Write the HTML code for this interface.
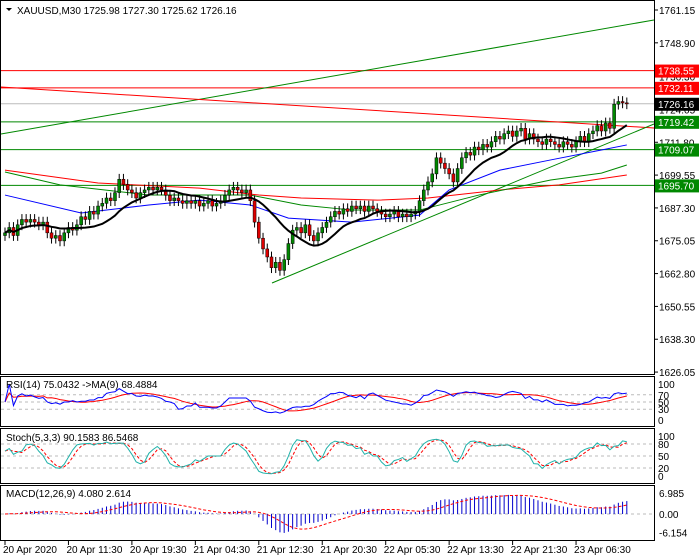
<!DOCTYPE html>
<html><head><meta charset="utf-8"><style>
body{margin:0;background:#fff;}
svg{display:block;font-family:"Liberation Sans",sans-serif;font-size:10px;}
</style></head><body>
<svg id="c" width="700" height="560" xmlns="http://www.w3.org/2000/svg"></svg>
<script>
const closes=[1678,1680,1677,1681,1683,1682,1683,1682,1681,1682,1678,1676,1677,1675,1678,1680,1679,1681,1684,1683,1686,1685,1688,1689,1691,1690,1693,1698,1696,1694,1693,1691,1693,1694,1695,1694,1695,1694,1692,1690,1691,1690,1689,1690,1689,1690,1688,1689,1690,1688,1689,1690,1692,1694,1695,1694,1693,1694,1690,1682,1676,1672,1669,1665,1667,1664,1668,1674,1679,1680,1678,1681,1677,1675,1678,1680,1682,1684,1686,1685,1687,1686,1688,1687,1688,1686,1688,1687,1686,1685,1684,1685,1686,1684,1685,1684,1685,1686,1690,1694,1697,1700,1706,1704,1702,1700,1697,1702,1706,1708,1707,1710,1709,1711,1710,1712,1714,1713,1715,1716,1714,1716,1717,1713,1715,1713,1712,1711,1713,1712,1711,1710,1712,1711,1710,1712,1714,1712,1715,1716,1718,1716,1719,1717,1726,1727,1726.5,1726.16];
const blueIdx=[0,18,34,46,58,67,82,98,105,117,129,141,147];
const blueVals=[1692.1,1685.4,1688.4,1690.2,1688.4,1683.5,1682.0,1684.6,1694.0,1701.4,1705.2,1708.9,1710.8];
const greenIdx=[0,13,34,58,70,82,98,112,129,141,147];
const greenVals=[1700.7,1695.9,1692.1,1692.1,1688.4,1686.5,1686.5,1692.1,1697.7,1700.3,1703.3];
const redIdx=[0,22,46,60,70,88,100,117,131,147];
const redVals=[1701.4,1696.6,1694.7,1692.1,1691.0,1690.2,1691.0,1694.0,1695.9,1699.6];
const hLevels=[1738.55,1732.11,1719.42,1709.07,1695.70];
const hColors=['#f00','#f00','#080','#080','#080'];
const priceTicks=[1761.15,1748.90,1736.30,1724.05,1711.80,1699.55,1687.30,1675.05,1662.80,1650.55,1638.30,1626.05];
const timeLabels=['20 Apr 2020','20 Apr 11:30','20 Apr 19:30','21 Apr 04:30','21 Apr 12:30','21 Apr 20:30','22 Apr 05:30','22 Apr 13:30','22 Apr 21:30','23 Apr 06:30'];
const timeIdx=[0,15,30,45,60,75,90,105,120,135];

const S=document.getElementById('c');const NS='http://www.w3.org/2000/svg';
function el(t,a,p){const e=document.createElementNS(NS,t);for(const k in a)e.setAttribute(k,a[k]);(p||S).appendChild(e);return e;}
const X=i=>5+i*4.23;
const Y=p=>10+(1761.15-p)*2.68;
const R=654;
let f;
f=el('rect',{x:0.5,y:0.5,width:R,height:374,fill:'none',stroke:'#000'});

f=el('rect',{x:0.5,y:376.5,width:R,height:50,fill:'none',stroke:'#000'});

f=el('rect',{x:0.5,y:428.5,width:R,height:55,fill:'none',stroke:'#000'});

f=el('rect',{x:0.5,y:485.5,width:R,height:55,fill:'none',stroke:'#000'});

let t=el('text',{x:17,y:14,fill:'#000'});t.textContent='XAUUSD,M30  1725.98 1727.30 1725.62 1726.16';

el('path',{d:'M6 8 L12 8 L9 11 Z',fill:'#000'});
priceTicks.forEach(p=>{const y=Y(p);el('line',{x1:R,x2:R+4,y1:y,y2:y,stroke:'#000'});
 const tt=el('text',{x:R+5,y:y+4,fill:'#000'});tt.textContent=p.toFixed(2);
 });
el('line',{x1:1,x2:R,y1:Y(1726.16),y2:Y(1726.16),stroke:'#bbb'});
hLevels.forEach((p,i)=>{const l=el('line',{x1:1,x2:R,y1:Y(p),y2:Y(p),stroke:hColors[i]});
 });
el('line',{x1:1,y1:134,x2:R,y2:20,stroke:'#080'});
el('line',{x1:1,y1:87,x2:R,y2:128,stroke:'#f00'});
el('line',{x1:272,y1:283,x2:R,y2:124,stroke:'#080'});
function poly(idx,vals,col,w,name){const pts=idx.map((i,k)=>X(i)+','+Y(vals[k])).join(' ');
 const pl=el('polyline',{points:pts,fill:'none',stroke:col,'stroke-width':w});
 }
poly(redIdx,redVals,'#f00',1,'ma-red');poly(greenIdx,greenVals,'#080',1,'ma-green');poly(blueIdx,blueVals,'#00f',1,'ma-blue');
const opens=closes.map((c,i)=>i?closes[i-1]:c-1);
closes.forEach((c,i)=>{const o=opens[i];const hi=Math.max(o,c)+2,lo=Math.min(o,c)-2;const x=X(i);
 el('line',{x1:x,x2:x,y1:Y(hi),y2:Y(lo),stroke:'#000'});
 const top=Y(Math.max(o,c)),h=Math.max(1,Y(Math.min(o,c))-top);
 const b=el('rect',{x:x-1.5,y:top,width:3,height:h,fill:c>=o?'#080':'#d00',stroke:'#000','stroke-width':0.5});
 });
const sma=closes.map((c,i)=>{const a=closes.slice(Math.max(0,i-13),i+1);return a.reduce((s,v)=>s+v,0)/a.length;});
poly(closes.map((c,i)=>i),sma,'#000',2,'ma-black');
const boxes=[[1738.55,'#f00','#fff'],[1732.11,'#f00','#fff'],[1726.16,'#000','#fff'],[1719.42,'#080','#fff'],[1709.07,'#080','#fff'],[1695.70,'#080','#fff']];
boxes.forEach(b=>{const y=Y(b[0]);el('rect',{x:R+1,y:y-6,width:44,height:13,fill:b[1]});
 const tt=el('text',{x:R+4,y:y+4,fill:b[2]});tt.textContent=b[0].toFixed(2);
 });
const RY=v=>420-v*0.36;
[70,50,30].forEach(v=>el('line',{x1:1,x2:R,y1:RY(v),y2:RY(v),stroke:'#bbb','stroke-dasharray':'3,3'}));
[100,70,50,30,0].forEach(v=>{const tt=el('text',{x:R+4,y:RY(v)+4,fill:'#000'});tt.textContent=v;});
const rsi=closes.map((c,i)=>{let g=0,l=0;for(let k=Math.max(1,i-13);k<=i;k++){const d=closes[k]-closes[k-1];if(d>0)g+=d;else l-=d;}return (g+l)?100*g/(g+l):50;});
const rsiMa=rsi.map((v,i)=>{const a=rsi.slice(Math.max(0,i-8),i+1);return a.reduce((s,x)=>s+x,0)/a.length;});
function line2(arr,fy,col,name,dash){const pl=el('polyline',{points:arr.map((v,i)=>X(i)+','+fy(v)).join(' '),fill:'none',stroke:col});
 if(dash)pl.setAttribute('stroke-dasharray',dash);}
line2(rsiMa,RY,'#f00','rsi-ma');line2(rsi,RY,'#00f','rsi-line');
t=el('text',{x:6,y:388,fill:'#000'});t.textContent='RSI(14) 75.0432  ->MA(9) 68.4884';

const SY=v=>476-v*0.4;
[80,50,20].forEach(v=>el('line',{x1:1,x2:R,y1:SY(v),y2:SY(v),stroke:'#bbb','stroke-dasharray':'3,3'}));
[100,80,50,20,0].forEach(v=>{const tt=el('text',{x:R+4,y:SY(v)+4,fill:'#000'});tt.textContent=v;});
const kraw=closes.map((c,i)=>{const a=closes.slice(Math.max(0,i-4),i+1),b=opens.slice(Math.max(0,i-4),i+1);const hh=Math.max(...a,...b)+1.5,ll=Math.min(...a,...b)-1.5;return 100*(c-ll)/(hh-ll);});
const sm=(arr,n)=>arr.map((v,i)=>{const a=arr.slice(Math.max(0,i-n+1),i+1);return a.reduce((s,x)=>s+x,0)/a.length;});
const kk=sm(kraw,3),dd=sm(kk,3);
line2(dd,SY,'#f00','stoch-signal','3,2');line2(kk,SY,'#20b2aa','stoch-main');
t=el('text',{x:6,y:441,fill:'#000'});t.textContent='Stoch(5,3,3) 90.1583 86.5468';

const MY=v=>514-v*3;
const ema=(arr,n)=>{const k=2/(n+1);let e=arr[0];return arr.map(v=>e=v*k+e*(1-k));};
const e12=ema(closes,12),e26=ema(closes,26);const macd=e12.map((v,i)=>v-e26[i]);const sig=sm(macd,9);
el('line',{x1:1,x2:R,y1:MY(0),y2:MY(0),stroke:'#bbb','stroke-dasharray':'3,3'});
macd.forEach((v,i)=>{const b=el('line',{x1:X(i),x2:X(i),y1:MY(0),y2:MY(v),stroke:'#00c'});
 });
line2(sig,MY,'#f00','macd-signal','3,2');
[['6.985',6.985],['0.00',0],['-6.154',-6.154]].forEach(a=>{const tt=el('text',{x:R+5,y:MY(a[1])+4,fill:'#000'});tt.textContent=a[0];});
t=el('text',{x:6,y:497,fill:'#000'});t.textContent='MACD(12,26,9) 4.080 2.614';

timeLabels.forEach((s,k)=>{const x=X(timeIdx[k]);el('line',{x1:x,x2:x,y1:541,y2:545,stroke:'#000'});
 const tt=el('text',{x:x-2,y:553,fill:'#000'});tt.textContent=s;
 });
</script>
</body></html>
